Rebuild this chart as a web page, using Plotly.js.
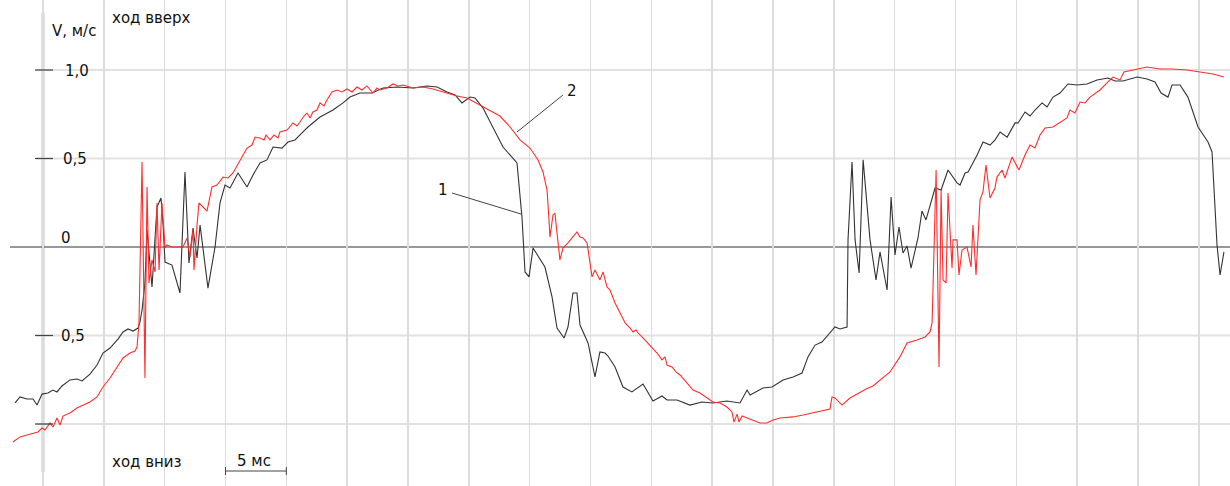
<!DOCTYPE html>
<html>
<head>
<meta charset="utf-8">
<script src="https://cdn.plot.ly/plotly-3.0.1.min.js"></script>
<style>html,body{margin:0;padding:0;background:#fff;}#chart{width:1230px;height:486px;}</style>
</head>
<body>
<div id="chart"></div>
<script>
// time in ms (0 at the V axis), velocity in m/s
const blackT = [-2.30,-1.89,-1.32,-0.82,-0.49,-0.08,0.41,0.82,1.15,1.56,
2.22,2.79,3.21,3.86,4.44,4.93,5.51,6.16,6.58,6.99,
7.40,7.81,7.97,8.14,8.38,8.55,8.96,9.37,9.70,9.86,
10.03,10.60,11.26,11.67,12.00,12.33,12.66,12.91,13.56,14.14,
14.55,14.96,15.37,16.03,16.77,17.26,17.84,18.41,18.91,19.64,
20.14,20.71,21.37,21.78,22.77,23.84,24.66,25.23,26.06,27.04,
27.95,29.10,30.41,31.56,32.39,33.21,33.87,34.44,35.10,35.51,
36.17,36.99,37.81,38.96,39.37,39.62,39.95,40.28,41.26,41.84,
42.25,42.83,43.15,43.56,43.89,44.14,44.80,45.37,45.78,46.20,
46.44,47.02,47.67,48.41,49.32,50.14,50.88,51.29,52.11,53.18,
54.17,55.07,56.22,57.29,57.87,58.12,59.18,59.92,60.83,61.65,
62.39,62.88,63.46,64.03,64.52,65.10,65.51,66.09,66.17,66.50,
66.75,67.08,67.41,67.98,68.47,68.80,69.38,69.71,70.03,70.36,
70.69,71.02,71.35,71.92,72.25,72.58,73.32,73.82,74.39,75.13,
75.38,75.79,76.04,76.78,77.27,77.84,78.26,78.67,79.25,79.90,
80.15,80.72,81.13,81.54,82.12,82.53,83.02,83.59,84.25,84.99,
85.81,86.64,87.54,88.12,88.77,89.93,90.75,91.40,91.90,92.47,
92.80,93.46,94.11,94.94,95.76,96.09,96.50,96.75,97.07];
const blackV = [-0.881,-0.847,-0.859,-0.859,-0.893,-0.831,-0.825,-0.808,-0.819,-0.785,
-0.751,-0.746,-0.757,-0.718,-0.667,-0.599,-0.571,-0.520,-0.480,-0.463,
-0.475,-0.458,-0.424,-0.356,-0.203,0.096,-0.226,0.226,0.277,0.136,
-0.085,-0.102,-0.260,0.424,-0.090,0.107,-0.062,0.124,-0.232,0.000,
0.249,0.350,0.333,0.418,0.339,0.407,0.475,0.492,0.565,0.559,
0.593,0.605,0.650,0.678,0.734,0.774,0.814,0.847,0.870,0.870,
0.898,0.904,0.898,0.910,0.904,0.876,0.859,0.814,0.847,0.842,
0.785,0.678,0.565,0.475,0.169,-0.141,-0.169,-0.006,-0.113,-0.282,
-0.458,-0.514,-0.452,-0.260,-0.260,-0.441,-0.542,-0.734,-0.593,-0.599,
-0.616,-0.678,-0.791,-0.819,-0.774,-0.870,-0.842,-0.864,-0.864,-0.893,
-0.876,-0.881,-0.870,-0.881,-0.808,-0.836,-0.797,-0.791,-0.751,-0.734,
-0.712,-0.621,-0.554,-0.537,-0.497,-0.452,-0.463,-0.452,0.040,0.480,
0.040,-0.147,0.492,0.040,-0.186,-0.028,-0.243,0.282,-0.045,0.113,
-0.034,0.006,-0.119,0.051,0.203,0.153,0.333,0.322,0.435,0.362,
0.350,0.418,0.424,0.520,0.593,0.576,0.605,0.650,0.621,0.701,
0.701,0.763,0.740,0.774,0.814,0.791,0.847,0.870,0.921,0.915,
0.921,0.944,0.955,0.938,0.938,0.960,0.949,0.932,0.870,0.847,
0.915,0.915,0.847,0.678,0.593,0.537,0.011,-0.158,-0.028];

const redT = [-2.47,-1.89,-1.32,-0.82,-0.41,-0.08,0.16,0.58,0.82,1.15,
1.40,1.64,2.22,2.79,3.29,3.86,4.44,4.93,5.51,6.08,
6.58,7.15,7.56,7.73,7.89,8.14,8.30,8.38,8.55,8.71,
8.96,9.21,9.37,9.54,9.78,10.03,10.19,10.60,11.26,11.51,
11.84,12.08,12.33,12.41,12.66,12.82,13.15,13.48,13.89,14.30,
14.80,15.21,15.62,16.19,16.77,17.18,17.43,17.84,18.17,18.33,
18.66,18.99,19.32,19.48,20.06,20.55,20.88,21.12,21.45,21.70,
21.95,22.19,22.52,22.77,23.10,23.34,23.75,24.17,24.58,24.99,
25.40,25.81,26.22,26.63,27.12,27.45,27.70,28.28,28.77,29.18,
29.59,30.41,31.24,32.06,33.21,34.03,34.85,35.92,36.74,37.56,
38.39,39.21,40.03,40.69,41.10,41.43,41.59,41.67,41.92,42.08,
42.25,42.49,42.74,43.15,43.89,44.14,44.39,44.72,45.13,45.37,
45.78,46.03,46.36,46.61,47.02,47.43,47.85,48.26,48.50,48.75,
48.91,49.32,49.89,50.47,50.88,51.13,51.29,51.70,52.03,52.36,
52.93,53.43,54.00,54.58,55.07,55.65,56.22,56.63,56.80,57.05,
57.21,57.46,57.87,58.36,58.94,59.51,60.00,60.58,61.65,62.47,
63.29,64.11,64.69,64.85,65.10,65.68,66.33,67.07,67.65,68.22,
68.80,69.62,70.44,71.02,71.84,72.50,72.91,73.08,73.41,73.49,
73.65,73.82,73.98,74.23,74.39,74.72,74.80,75.13,75.29,75.54,
75.95,76.28,76.44,76.69,76.85,77.02,77.26,77.51,77.84,78.25,
78.41,78.83,79.07,79.65,80.22,80.72,81.13,81.54,81.95,82.36,
83.02,83.59,84.17,84.41,84.82,85.24,85.65,86.06,86.88,87.46,
87.95,88.53,88.85,89.59,90.75,91.81,92.88,94.03,95.10,96.17,
97.07];
const redV = [-1.102,-1.073,-1.062,-1.051,-1.045,-1.023,-1.034,-0.994,-1.017,-0.966,
-1.006,-0.955,-0.938,-0.910,-0.893,-0.876,-0.847,-0.791,-0.740,-0.678,
-0.627,-0.599,-0.588,-0.565,-0.429,0.480,-0.486,-0.740,0.339,-0.203,
-0.073,-0.141,0.249,-0.130,0.249,-0.006,0.011,0.000,0.000,0.000,
0.051,-0.056,0.096,-0.130,0.124,0.249,0.226,0.203,0.339,0.350,
0.395,0.390,0.418,0.492,0.559,0.576,0.621,0.616,0.605,0.633,
0.605,0.633,0.616,0.650,0.661,0.701,0.684,0.706,0.740,0.757,
0.729,0.763,0.774,0.814,0.797,0.831,0.876,0.887,0.876,0.893,
0.876,0.904,0.887,0.910,0.870,0.898,0.887,0.898,0.921,0.910,
0.915,0.898,0.904,0.893,0.870,0.853,0.842,0.802,0.774,0.740,
0.678,0.605,0.559,0.492,0.424,0.322,0.153,0.056,0.181,0.192,
0.079,-0.073,-0.006,0.023,0.085,0.056,0.051,0.023,-0.169,-0.130,
-0.186,-0.141,-0.226,-0.243,-0.316,-0.373,-0.429,-0.458,-0.480,-0.469,
-0.486,-0.514,-0.554,-0.599,-0.638,-0.621,-0.667,-0.678,-0.706,-0.723,
-0.768,-0.808,-0.825,-0.853,-0.876,-0.881,-0.904,-0.932,-0.989,-0.944,
-0.989,-0.955,-0.966,-0.977,-0.994,-0.994,-0.977,-0.966,-0.960,-0.949,
-0.938,-0.927,-0.915,-0.847,-0.853,-0.893,-0.853,-0.825,-0.802,-0.785,
-0.751,-0.706,-0.621,-0.542,-0.525,-0.508,-0.480,-0.429,0.435,-0.017,
-0.678,0.322,-0.186,-0.203,0.305,-0.119,0.040,0.040,-0.158,-0.017,
0.000,-0.113,0.124,-0.158,0.056,0.266,0.311,0.463,0.277,0.333,
0.395,0.435,0.390,0.508,0.435,0.520,0.576,0.559,0.633,0.672,
0.678,0.701,0.729,0.774,0.757,0.819,0.814,0.847,0.887,0.927,
0.960,0.944,0.989,1.000,1.017,1.006,1.006,1.000,0.989,0.977,
0.960];

const gridLevels = [1.0, 0.5, -0.5, -1.0];
const tickLabels = [
  {v: 1.0, t: '1,0'},
  {v: 0.5, t: '0,5'},
  {v: 0.0, t: '0'},
  {v: -0.5, t: '0,5'}
];
const curveLabels = ['1', '2'];
const scaleBarMs = [15, 20];

const W = 1230, H = 486;
const px = x => x / W;
const py = y => 1 - y / H;
const FONT = {family: 'DejaVu Sans, Arial, sans-serif', size: 15, color: '#111'};

const traces = [
  {x: blackT, y: blackV, type: 'scatter', mode: 'lines',
   line: {color: '#333333', width: 1.1}, hoverinfo: 'skip'},
  {x: redT, y: redV, type: 'scatter', mode: 'lines',
   line: {color: '#ff2d2d', width: 1.1}, hoverinfo: 'skip'}
];

const shapes = [];
gridLevels.forEach(v => {
  shapes.push({type: 'line', xref: 'paper', yref: 'y', x0: px(36), x1: 1, y0: v, y1: v,
    line: {color: '#e2e2e2', width: 2}, layer: 'below'});
});
// V axis
shapes.push({type: 'line', xref: 'x', yref: 'paper', x0: 0, x1: 0, y0: py(13), y1: py(472),
  line: {color: '#8a8a8a', width: 2.5}, layer: 'below'});
// zero line
shapes.push({type: 'line', xref: 'paper', yref: 'y', x0: px(10), x1: 1, y0: 0, y1: 0,
  line: {color: '#333', width: 1.2}, layer: 'below'});
gridLevels.forEach(v => {
  shapes.push({type: 'line', xref: 'paper', yref: 'y', x0: px(35), x1: px(53), y0: v, y1: v,
    line: {color: '#444', width: 1.2}, layer: 'above'});
});
// scale bar
shapes.push({type: 'line', xref: 'x', yref: 'paper', x0: scaleBarMs[0], x1: scaleBarMs[1], y0: py(471), y1: py(471),
  line: {color: '#444', width: 1.2}});
shapes.push({type: 'line', xref: 'x', yref: 'paper', x0: scaleBarMs[0], x1: scaleBarMs[0], y0: py(467), y1: py(475),
  line: {color: '#444', width: 1}});
shapes.push({type: 'line', xref: 'x', yref: 'paper', x0: scaleBarMs[1], x1: scaleBarMs[1], y0: py(467), y1: py(475),
  line: {color: '#444', width: 1}});
// leader lines
shapes.push({type: 'line', xref: 'paper', yref: 'paper', x0: px(452), y0: py(193), x1: px(521), y1: py(214),
  line: {color: '#444', width: 1}});
shapes.push({type: 'line', xref: 'paper', yref: 'paper', x0: px(563), y0: py(95), x1: px(517), y1: py(132),
  line: {color: '#444', width: 1}});

const annotations = [];
function txt(t, x, y, xa) {
  annotations.push({text: t, xref: 'paper', yref: 'paper', x: px(x), y: py(y),
    xanchor: xa || 'left', yanchor: 'middle', showarrow: false, font: FONT});
}
txt('V, м/с', 50, 31);
txt('ход вверх', 110, 18);
tickLabels.forEach((d, i) => {
  const ypix = [71, 159, 238, 336][i];
  const xpix = [63, 61, 59, 59][i];
  txt(d.t, xpix, ypix);
});
txt('ход вниз', 110, 462);
txt('5 мс', 235, 461);
txt(curveLabels[0], 436, 190);
txt(curveLabels[1], 565, 91);

const layout = {
  width: W, height: H,
  margin: {l: 0, r: 0, t: 0, b: 0},
  paper_bgcolor: '#fff', plot_bgcolor: 'rgba(0,0,0,0)',
  showlegend: false,
  xaxis: {range: [-43 / 12.166, (W - 43) / 12.166], showgrid: true, dtick: 5, tick0: 0,
    gridcolor: '#dcdcdc', gridwidth: 1.5, zeroline: false, showticklabels: false,
    showline: false, ticks: ''},
  yaxis: {range: [-(H - 247) / 177, 247 / 177], showgrid: false, zeroline: false,
    showticklabels: false, showline: false, ticks: ''},
  shapes: shapes,
  annotations: annotations
};

Plotly.newPlot('chart', traces, layout, {displayModeBar: false, staticPlot: true});
</script>
</body>
</html>
